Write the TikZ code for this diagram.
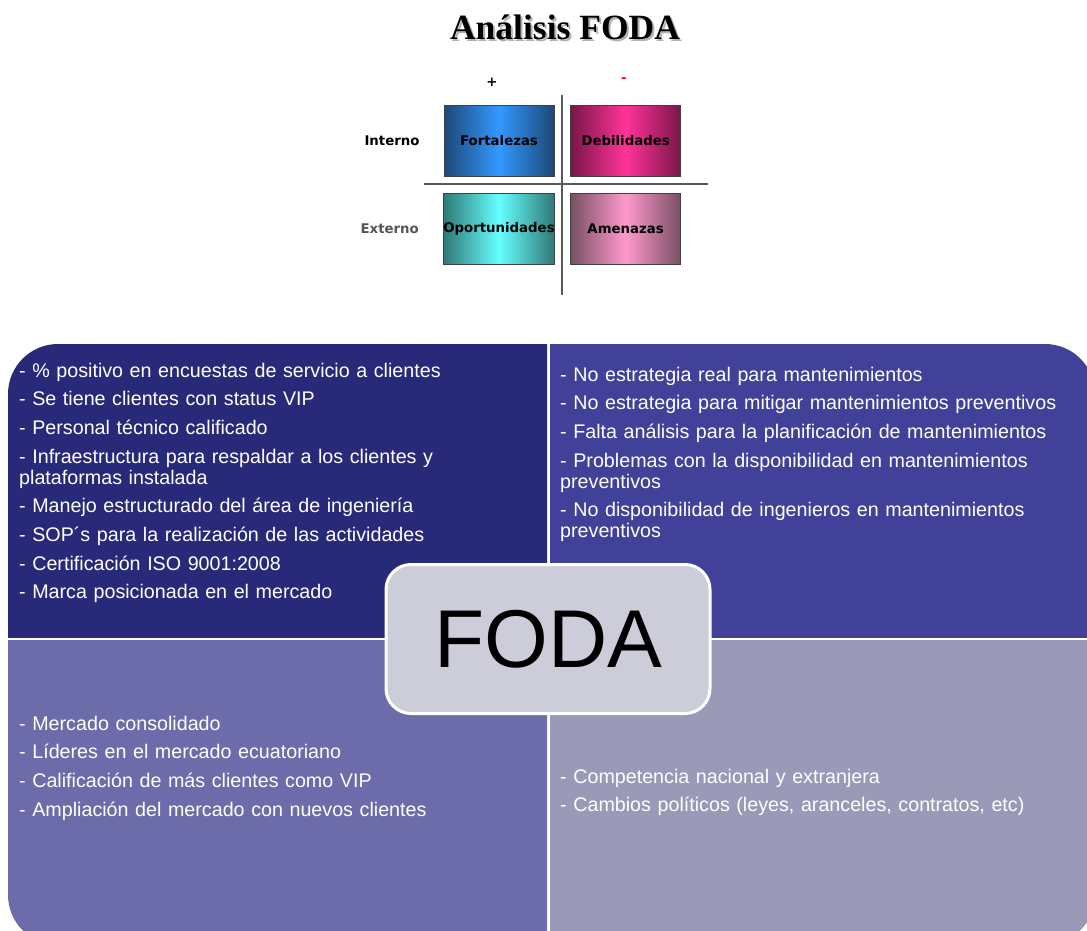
\documentclass[tikz,border=0pt]{standalone}
\usepackage{fontspec}
\setmainfont{Liberation Sans}
\newfontfamily\titlefont{Liberation Serif}
\newfontfamily\labelfont{DejaVu Sans}
\usetikzlibrary{positioning}
\definecolor{fortaleza}{RGB}{51,153,255}
\definecolor{fortalezaosc}{RGB}{28,72,120}
\definecolor{debilidad}{RGB}{255,51,153}
\definecolor{debilidadosc}{RGB}{122,22,72}
\definecolor{oportunidad}{RGB}{102,255,255}
\definecolor{oportunidadosc}{RGB}{46,120,118}
\definecolor{amenaza}{RGB}{255,153,204}
\definecolor{amenazaosc}{RGB}{120,80,100}
\definecolor{cuadF}{RGB}{41,41,122}
\definecolor{cuadD}{RGB}{65,65,154}
\definecolor{cuadO}{RGB}{108,108,171}
\definecolor{cuadA}{RGB}{154,154,184}
\definecolor{centro}{RGB}{205,205,218}
\tikzstyle{caja} = [draw=black!75, line width=0.6pt, minimum width=110pt, minimum height=71pt, inner sep=0pt, font=\labelfont\bfseries\fontsize{13.3}{15}\selectfont]
\tikzstyle{fila} = [font=\labelfont\bfseries\fontsize{13.3}{15}\selectfont, inner sep=0pt]
\tikzstyle{eje} = [draw=black!65, line width=1.1pt]
\tikzstyle{panel} = [rounded corners=50pt]
\tikzstyle{lista} = [anchor=base west, text=white, text width=525pt, align=left, inner sep=0pt, font=\fontsize{19.7}{21}\selectfont]

\begin{document}
\begin{tikzpicture}[x=1pt, y=-1pt]
        \clip (0,0) rectangle (1087,931);

        % titulo
        \node[anchor=base, text=black!30, font=\titlefont\bfseries\fontsize{35.5}{40}\selectfont] (sombra) at (567,42) {Análisis FODA};
        \node[anchor=base, font=\titlefont\bfseries\fontsize{35.5}{40}\selectfont] (titulo) at (565,40) {Análisis FODA};

        % matriz pequena
        \node[fila] (mas) at (492,82) {+};
        \node[fila, text=red] (menos) at (624,80) {-};
        \draw[eje] (562,95) -- (562,295);
        \draw[eje] (424,184) -- (708,184);
        \node[caja, left color=fortalezaosc, right color=fortalezaosc, middle color=fortaleza] (fort) at (499,141) {Fortalezas};
        \node[caja, left color=debilidadosc, right color=debilidadosc, middle color=debilidad, right=16pt of fort] (debil) {Debilidades};
        \node[caja, left color=oportunidadosc, right color=oportunidadosc, middle color=oportunidad, below=16pt of fort] (oport) {Oportunidades};
        \node[caja, left color=amenazaosc, right color=amenazaosc, middle color=amenaza, below=16pt of debil] (amen) {Amenazas};
        \node[fila, left=24pt of fort] (interno) {Interno};
        \node[fila, text=black!67, left=24pt of oport] (externo) {Externo};

        % cuadrantes
        \begin{scope}
            \clip (8,344) rectangle (547,637);
            \fill[cuadF, panel] (8,344) rectangle (1095,945);
        \end{scope}
        \begin{scope}
            \clip (550,344) rectangle (1095,637);
            \fill[cuadD, panel] (8,344) rectangle (1095,945);
        \end{scope}
        \begin{scope}
            \clip (8,640) rectangle (547,945);
            \fill[cuadO, panel] (8,344) rectangle (1095,945);
        \end{scope}
        \begin{scope}
            \clip (550,640) rectangle (1095,945);
            \fill[cuadA, panel] (8,344) rectangle (1095,945);
        \end{scope}

        \node[lista] (fuerzas) at (19,377) {- \% positivo en encuestas de servicio a clientes\\[7.7pt]
            - Se tiene clientes con status VIP\\[7.7pt]
            - Personal técnico calificado\\[7.7pt]
            - Infraestructura para respaldar a los clientes y\\plataformas instalada\\[7.7pt]
            - Manejo estructurado del área de ingeniería\\[7.7pt]
            - SOP´s para la realización de las actividades\\[7.7pt]
            - Certificación ISO 9001:2008\\[7.7pt]
            - Marca posicionada en el mercado};
        \node[lista] (debilidades) at (560,381) {- No estrategia real para mantenimientos\\[7.7pt]
            - No estrategia para mitigar mantenimientos preventivos\\[7.7pt]
            - Falta análisis para la planificación de mantenimientos\\[7.7pt]
            - Problemas con la disponibilidad en mantenimientos\\preventivos\\[7.7pt]
            - No disponibilidad de ingenieros en mantenimientos\\preventivos};
        \node[lista] (oportunidades) at (19,730) {- Mercado consolidado\\[7.7pt]
            - Líderes en el mercado ecuatoriano\\[7.7pt]
            - Calificación de más clientes como VIP\\[7.7pt]
            - Ampliación del mercado con nuevos clientes};
        \node[lista] (amenazas) at (560,783) {- Competencia nacional y extranjera\\[7.7pt]
            - Cambios políticos (leyes, aranceles, contratos, etc)};

        \node[draw=white, line width=3pt, fill=centro, rounded corners=25pt, minimum width=324pt, minimum height=149pt, font=\fontsize{82}{90}\selectfont] (foda) at (548,639) {FODA};

    \end{tikzpicture}
\end{document}
